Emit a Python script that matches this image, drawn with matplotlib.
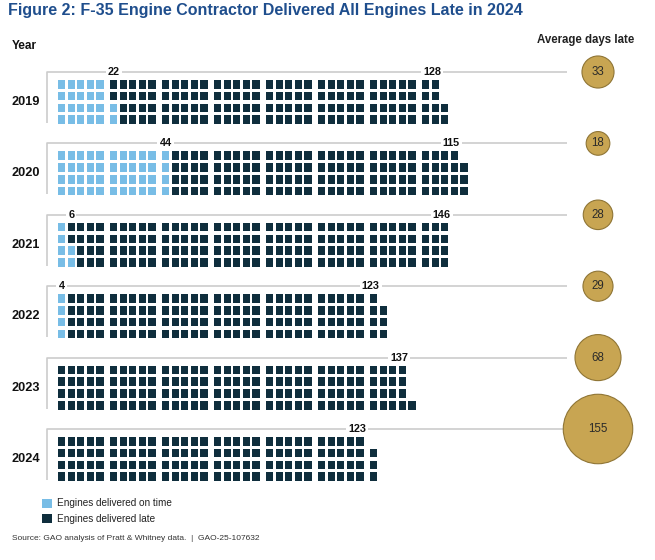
import matplotlib.pyplot as plt
from matplotlib.patches import Rectangle, Circle
import numpy as np

plt.rcParams['font.family'] = ['Liberation Sans', 'DejaVu Sans']

# Data
years = ['2019', '2020', '2021', '2022', '2023', '2024']
on_time = [22, 44, 6, 4, 0, 0]
late = [128, 115, 146, 123, 137, 123]
avg_days_late = [33, 18, 28, 29, 68, 155]

light_blue = '#78bde6'
dark_navy = '#0f2e3d'
gold = '#c8a552'
gold_edge = '#8f7535'
grey = '#cccccc'

# Layout in pixels
x0 = 58
col_pitch = 9.6
group_gap = 4
sq_w, sq_h = 7.2, 8.6
row_pitch = 11.8
n_rows = 4
line_y0 = 72
block_pitch = 71.4
circle_x = 598
circle_k = 2.79

fig = plt.figure(figsize=(6.55, 5.6), dpi=100)
ax = fig.add_axes([0, 0, 1, 1])
ax.set_xlim(0, 655)
ax.set_ylim(560, 0)
ax.axis('off')


def col_x(c):
    return x0 + c * col_pitch + (c // 5) * group_gap


fig.text(8 / 655, 1 - 10 / 560, 'Figure 2: F-35 Engine Contractor Delivered All Engines Late in 2024',
         fontsize=11.5, fontweight='bold', color='#1f4e8d', va='center', ha='left')
ax.text(12, 46, 'Year', fontsize=8.5, fontweight='bold', va='center', ha='left', color='#111111')
ax.text(586, 40, 'Average days late', fontsize=8.3, fontweight='bold', va='center', ha='center',
        color='#222222')

for k, yr in enumerate(years):
    ly = line_y0 + k * block_pitch
    top = ly + 8
    total = on_time[k] + late[k]
    bottom = top + (n_rows - 1) * row_pitch + sq_h

    # bracket
    ax.plot([47, 47, 567], [bottom - 1, ly, ly], color=grey, lw=1.2, solid_capstyle='butt', zorder=1)

    # squares, filled column by column from the bottom
    for i in range(total):
        c = i // n_rows
        r = n_rows - 1 - (i % n_rows)
        color = light_blue if i < on_time[k] else dark_navy
        ax.add_patch(Rectangle((col_x(c), top + r * row_pitch), sq_w, sq_h,
                               facecolor=color, edgecolor='none', zorder=2))

    ax.text(12, top + 22, yr, fontsize=9.2, fontweight='bold', va='center', ha='left', color='#111111')

    bbox = dict(facecolor='white', edgecolor='none', pad=1.5)
    if on_time[k] > 0:
        c_on = (on_time[k] - 1) // n_rows
        ax.text(col_x(c_on) + sq_w / 2, ly, str(on_time[k]), fontsize=7.8, fontweight='bold',
                ha='center', va='center', color='#111111', bbox=bbox, zorder=3)
    c_last = total // n_rows - 1
    ax.text(col_x(c_last) + sq_w / 2 - 3, ly, str(late[k]), fontsize=7.8, fontweight='bold',
            ha='center', va='center', color='#111111', bbox=bbox, zorder=3)

    # average days late bubble
    rad = circle_k * np.sqrt(avg_days_late[k])
    ax.add_patch(Circle((circle_x, ly), rad, facecolor=gold, edgecolor=gold_edge, lw=0.8, zorder=2))
    ax.text(circle_x, ly, str(avg_days_late[k]), fontsize=8.3, ha='center', va='center',
            color='#2a2a2a', zorder=3)

# legend
ax.add_patch(Rectangle((42, 499), 10, 9, facecolor=light_blue, edgecolor='none'))
ax.text(57, 503.5, 'Engines delivered on time', fontsize=7.2, va='center', ha='left', color='#222222')
ax.add_patch(Rectangle((42, 514), 10, 9, facecolor=dark_navy, edgecolor='none'))
ax.text(57, 518.5, 'Engines delivered late', fontsize=7.2, va='center', ha='left', color='#222222')

ax.text(12, 538, 'Source: GAO analysis of Pratt & Whitney data.  |  GAO-25-107632', fontsize=6,
        va='center', ha='left', color='#333333')

fig.savefig('out.png', dpi=100, facecolor='white')
